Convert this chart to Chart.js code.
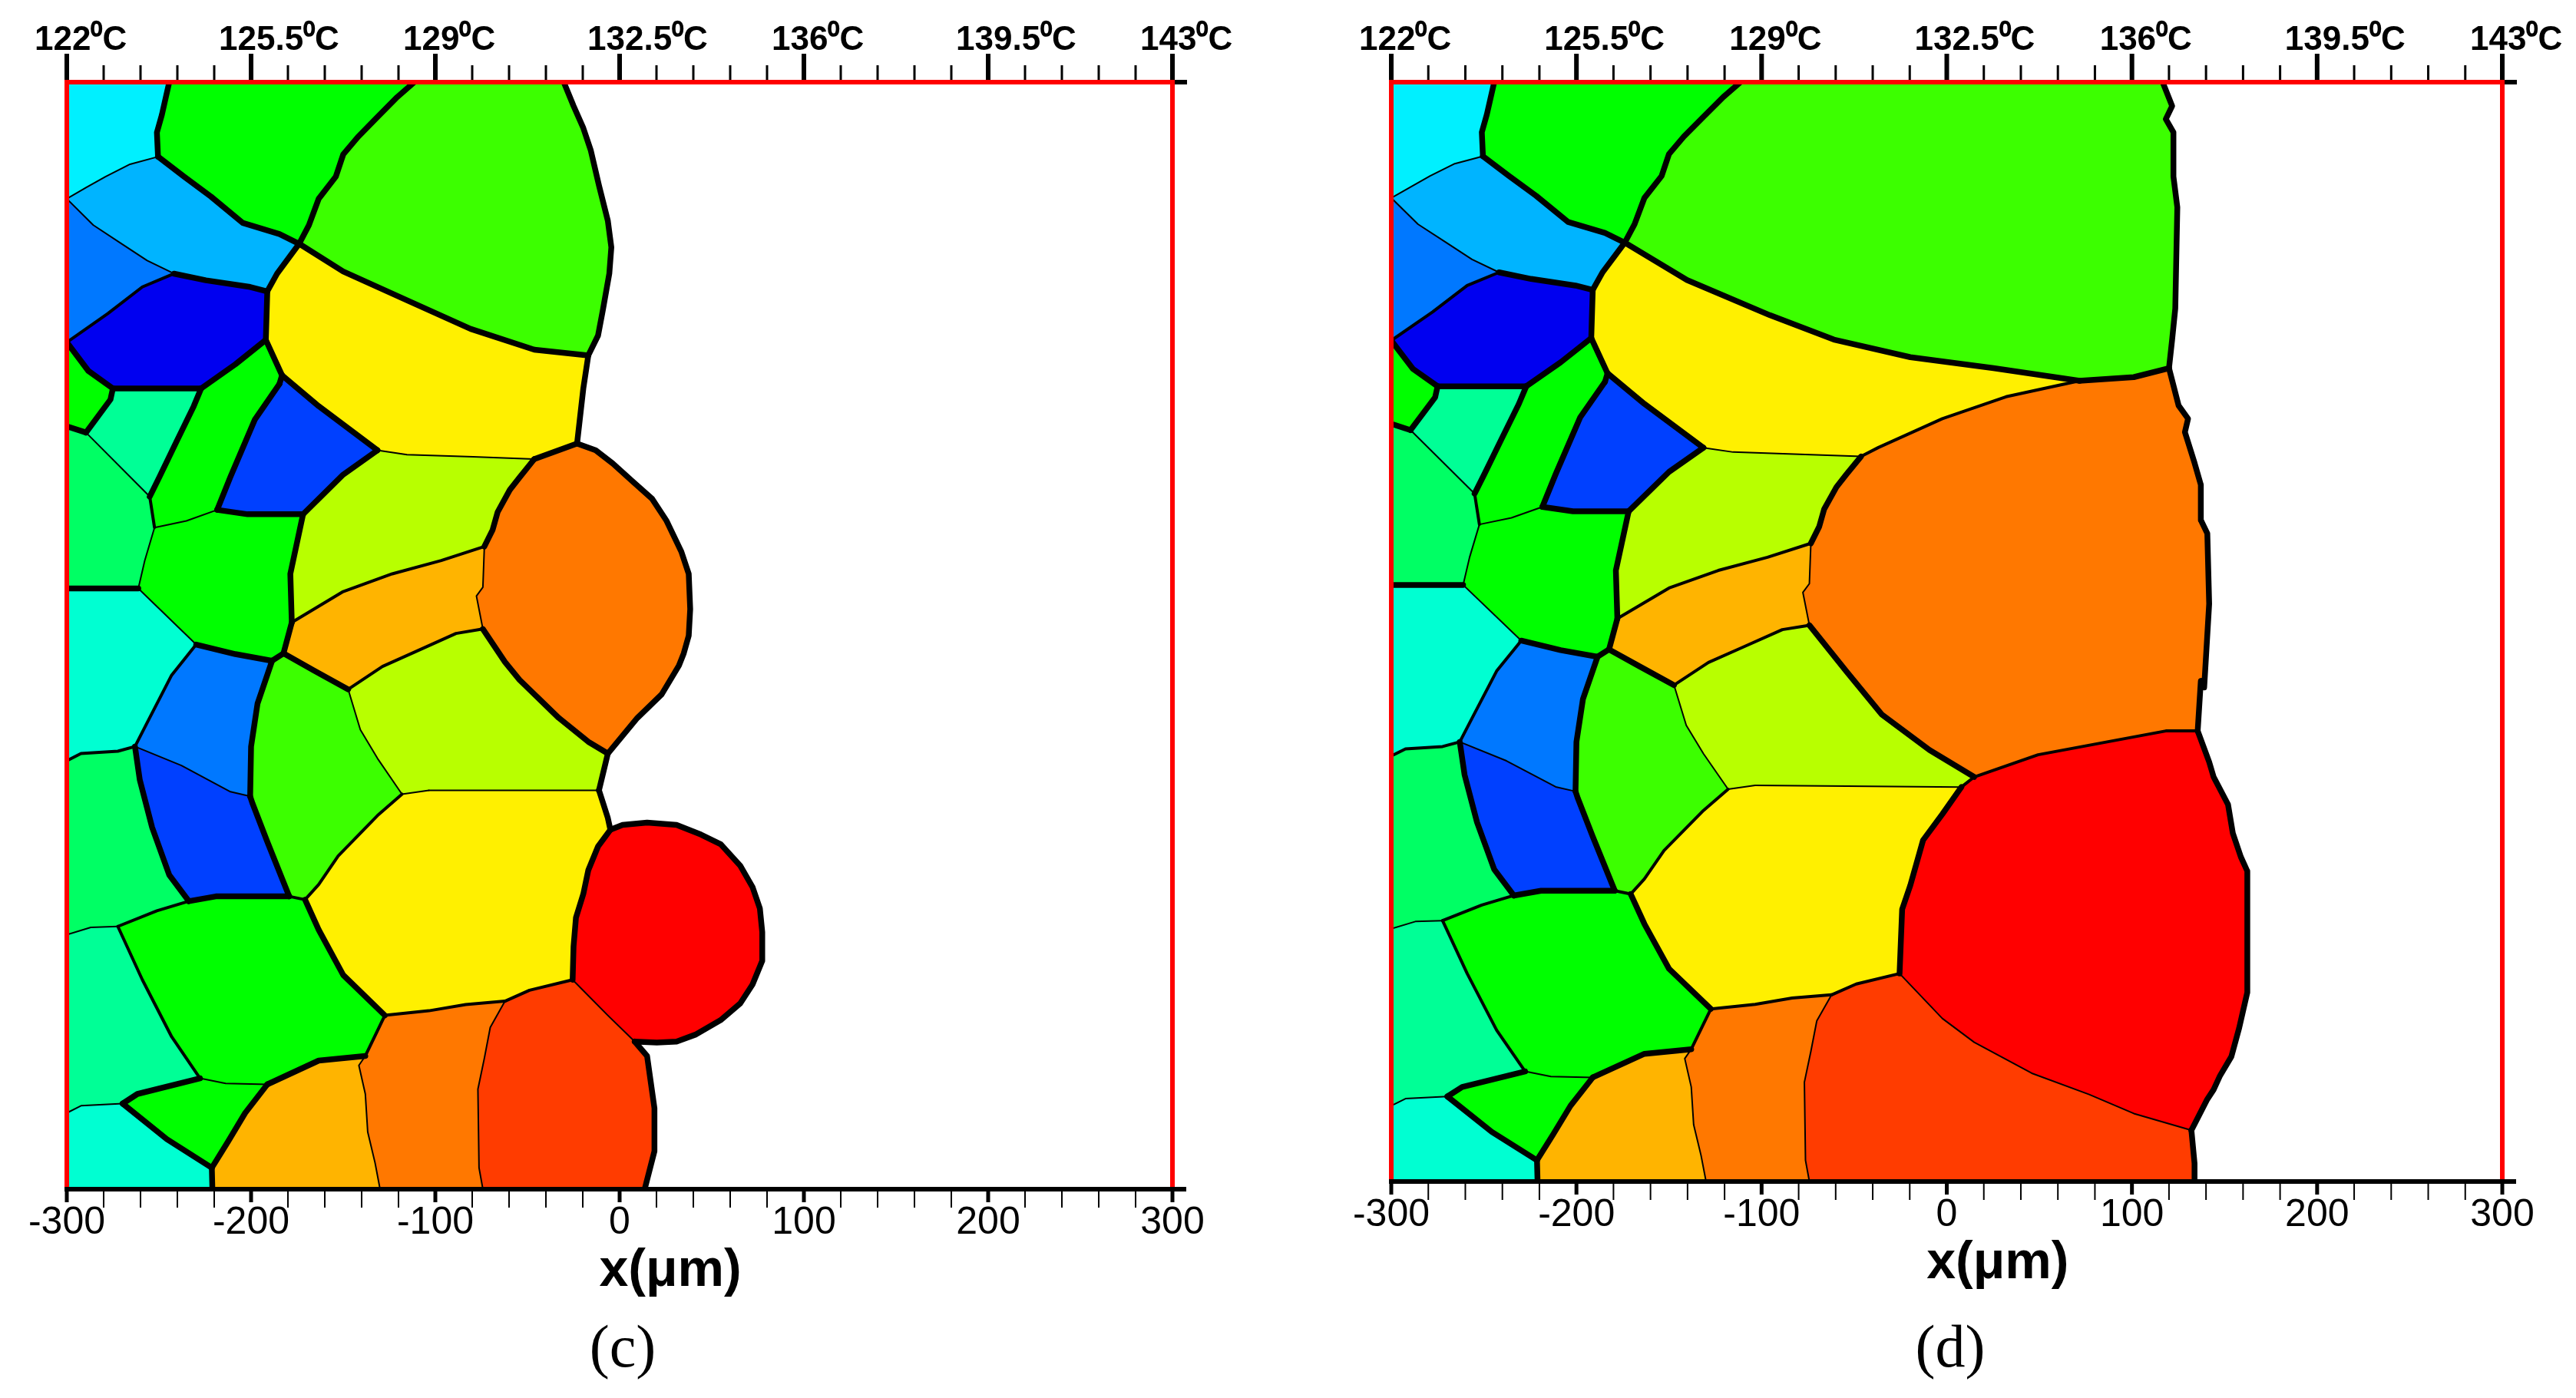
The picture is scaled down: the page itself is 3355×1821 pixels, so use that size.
<!DOCTYPE html>
<html>
<head>
<meta charset="utf-8">
<title>grain growth (c) (d)</title>
<script src="https://cdn.jsdelivr.net/npm/chart.js@4/dist/chart.umd.js"></script>
<style>
  body { margin: 0; background: #fff; width: 3355px; height: 1821px; overflow: hidden; position: relative; }
  canvas { position: absolute; top: 0; }
  #chartC { left: 0; }
  #chartD { left: 1700px; }
  .caption { position: absolute; top: 1709px; font: 78px "Liberation Serif", serif; transform: translateX(-50%); color: #000; }
</style>
</head>
<body>
<canvas id="chartC" width="1650" height="1700"></canvas>
<canvas id="chartD" width="1655" height="1700"></canvas>
<div class="caption" id="capC" style="left:811px">(c)</div>
<div class="caption" id="capD" style="left:2540px">(d)</div>
<script>
// axis ticks
const tempTicks = [122, 125.5, 129, 132.5, 136, 139.5, 143];
const xTicks = [-300, -200, -100, 0, 100, 200, 300];
const xTitle = 'x(μm)';

// grain boundaries, [x in um, height in um]
// same in both panels
const cyanGreen = [[-244.4,600],[-248.4,582.3],[-251.1,572.7],[-250.5,559.6]];
const cyanLight = [[-250.5,559.6],[-265.7,555.5],[-279,548.8],[-289.6,542.8],[-300,536.8]];
const lightBlueEdge = [[-300,536.8],[-285.6,522.5],[-271,512.9],[-256.4,503.3],[-241.8,496.2]];
const greenLight = [[-250.5,559.6],[-236.4,548.8],[-221.8,538],[-204.5,523.7],[-184.6,517.7],[-173.9,512.4]];
const g2g3 = [[-111.4,600],[-120.7,591.9],[-131.4,581.1],[-142,570.3],[-150,560.8],[-154,548.8],[-163.3,536.8],[-168.6,522.5],[-173.9,512.4]];
const yellowLeftTop = [[-173.9,512.4],[-185.9,496.2],[-191.2,486.6]];
const navyTop = [[-241.8,496.2],[-224.5,492.6],[-200.5,489],[-191.2,486.6]];
const navyRight = [[-191.2,486.6],[-192,460.3]];
const navyLeft = [[-241.8,496.2],[-259,489],[-277.7,474.6],[-300,459]];
const navyLow = [[-300,459],[-288.3,443.5],[-275,434]];
const navyBase = [[-275,434],[-227.1,434]];
const navyDiag = [[-227.1,434],[-208.5,447.1],[-192,460.3]];
const smallGreenB = [[-275,434],[-276.3,428],[-289.6,410.1]];
const smallGreenC = [[-289.6,410.1],[-300,413.5]];
const springDiag = [[-289.6,410.1],[-255,375.4]];
const stripLeft = [[-227.1,434],[-231.1,424.4],[-240.4,405.3],[-249.7,386.1],[-255,375.4]];
const stripFoot = [[-255,375.4],[-252.4,358.6]];
const stripBase = [[-252.4,358.6],[-235.1,362.2],[-218.4,368.2]];
const stripRight = [[-218.4,368.2],[-211.2,386.1],[-197.9,417.2],[-184.6,436.4]];
const stripTop = [[-184.6,436.4],[-183.2,441.1]];
const yellowBack = [[-192,460.3],[-183.2,441.1]];
const yellowBlue = [[-183.2,441.1],[-163.3,424.4],[-131.4,400.5]];
const blueDiag = [[-131.4,400.5],[-150,387.3],[-171.8,365.8]];
const blueBase = [[-171.8,365.8],[-201.9,365.8],[-218.4,368.2]];
const greenRight = [[-171.8,365.8],[-178.7,333.5],[-177.9,307.2]];
const greenFoot = [[-177.9,307.2],[-182.4,290.4]];
const greenLeft = [[-252.4,358.6],[-257.7,340.7],[-261.2,325.6]];
const wallBar = [[-261.2,325.6],[-300,325.6]];
const greenLow = [[-261.2,325.6],[-229.8,295.2]];
const greenBase = [[-229.8,295.2],[-208.5,290],[-188.6,286.4]];
const greenTip = [[-188.6,286.4],[-182.4,290.4]];
const amberTop = [[-177.9,307.2],[-150,323.9],[-123.4,333.5],[-96.8,340.7],[-73.4,348.3]];
const amberRight = [[-73.4,348.3],[-74.2,326.3],[-77.7,321.5],[-74.2,303.6]];
const amberLow = [[-74.2,303.6],[-88.8,301.2],[-110.1,291.6],[-128.7,283.3],[-147.3,270.9]];
const amberLeft = [[-182.4,290.4],[-166,281.2],[-147.3,270.9]];
const blueUpper = [[-229.8,295.2],[-243.1,278.6],[-256.4,252.8],[-263,239.9]];
const blueRight = [[-188.6,286.4],[-196.5,263.2],[-200,239.9],[-200.5,212.9]];
const blueLower = [[-200.5,212.9],[-211.2,215.4],[-237.8,229.6],[-263,239.9]];
const wallLow = [[-263,239.9],[-272.3,237.4],[-292.3,236.1],[-300,232.2]];
const deepLeft = [[-263,239.9],[-260.4,221.9],[-253.7,196.1],[-244.4,170.3],[-233.8,156.1]];
const deepBase = [[-233.8,156.1],[-219.1,158.7],[-179.3,158.7]];
const deepRight = [[-200.5,212.9],[-199.2,209],[-191.2,188.3],[-179.3,158.7]];
const limeTip = [[-179.3,158.7],[-170.7,156.9]];
const limeRight = [[-147.3,270.9],[-140.7,249],[-131.4,233.5],[-118.1,214.1]];
const limeLow = [[-118.1,214.1],[-131.4,202.5],[-152.7,180.6],[-163.3,165.1],[-170.7,156.9]];
const ylTop = [[-118.1,214.1],[-103.5,216.2]];
const ylMid = [[-131.4,400.5],[-115.4,398.1],[-79.5,396.9],[-46.3,395.7]];
const orangeNW = [[-46.3,395.7],[-54.3,385.8],[-59.6,379],[-66.2,367],[-68.9,357.4],[-73.4,348.3]];
const yellowSw = [[-170.7,156.9],[-163.3,140.6],[-150,116.1],[-127.4,94.2]];
const greenSouth = [[-127.4,94.2],[-138,72.2]];
const greenSouth2 = [[-138,72.2],[-163.3,69.7],[-191.2,56.8]];
const southTop = [[-191.2,56.8],[-213.8,57.3],[-227.7,60.1]];
const greenW = [[-227.7,60.1],[-243.1,82.6],[-259,113.5],[-272.3,142.4]];
const greenNW = [[-272.3,142.4],[-251.1,150.9],[-233.8,156.1]];
const wall137 = [[-272.3,142.4],[-287,141.9],[-300,137.9]];
const tri1 = [[-227.7,60.1],[-261.7,51.6],[-269.7,46.4]];
const wall41 = [[-269.7,46.4],[-292.3,45.2],[-300,41.3]];
const tri2 = [[-269.7,46.4],[-245.7,27.1],[-221.3,11.6]];
const tri3 = [[-191.2,56.8],[-203.2,41.3],[-212.5,25.8],[-221.3,11.6]];
const foot = [[-221.3,11.6],[-221,0]];
const amberBase = [[-138,72.2],[-141.5,67.1],[-138,51.6],[-136.7,31],[-132.7,14.2],[-130,0]];
const topBase = [[-127.4,94.2],[-103.5,96.7],[-83.5,100.1],[-62.2,101.9]];
const rustLeft = [[-62.2,101.9],[-70.2,87.7],[-73.4,71],[-76.9,54.2],[-76.3,11.6],[-74.2,0]];
const rustTop = [[-62.2,101.9],[-48.9,107.8],[-25.5,113.5]];

// panel (c) only
const surfaceC = [[-30.3,600],[-25,587.1],[-19.7,575.1],[-15.7,563.2],[-11.2,544],[-6.4,524.9],[-4.5,510.5],[-5.6,496.2],[-9,477],[-11.7,462.7],[-17,451.9]];
const g3yellowC = [[-173.9,512.4],[-150,497.4],[-115.4,481.8],[-80.9,466.3],[-46.3,455],[-17,451.9]];
const yellowEastC = [[-17,451.9],[-19.7,434],[-23.1,404.1]];
const orangeCapC = [[-23.1,404.1],[-46.3,395.7]];
const orangeEastC = [[-23.1,404.1],[-13,400.5],[-3.7,393.3],[6.9,383.7],[17.6,374.2],[25.5,362.2],[33.5,345.5],[37.5,333.5],[38.3,314.4],[37.5,300],[34.8,290.4],[32.2,283.8],[22.9,268.3],[9.6,255.4],[-6.4,236.1]];
const orangeSouthC = [[-74.2,303.6],[-62.2,285.7],[-54.3,276],[-33,255.4],[-17,242.5],[-6.4,236.1]];
const j5j8C = [[-6.4,236.1],[-11.2,216.2]];
const ylTopC = [[-103.5,216.2],[-11.2,216.2]];
const j8j9C = [[-11.2,216.2],[-6.4,201.2],[-5,194.8]];
const redWestC = [[-5,194.8],[-11.7,185.8],[-17,172.9],[-19.7,160],[-23.7,147.1],[-25,131.6],[-25.5,113.5]];
const redEastC = [[-5,194.8],[1.6,197.4],[14.9,198.7],[30.9,197.4],[44.1,192.2],[54.8,187],[65.4,175.4],[72.1,163.8],[76.1,152.2],[77.4,139.3],[77.4,123.8],[72.1,110.9],[65.4,100.6],[54.8,91.6],[41.5,83.9],[30.9,80],[20.2,79.5],[8.2,80]];
const redSouthC = [[-25.5,113.5],[-6.4,94.2],[8.2,80]];
const rustEastC = [[8.2,80],[14.9,72.2],[18.9,43.9],[18.9,20.6],[13.6,0]];

// panel (d) only
const surfaceD = [[116.6,600],[121.7,587],[118.3,579.8],[122.4,572.6],[122.4,548.5],[124.5,531.7],[123.4,476.4],[121.7,459.5],[120,443.9]];
const g3yellowD = [[-173.9,512.4],[-140.3,492],[-95.5,472.8],[-61,459.5],[-19.7,449.9],[25.2,443.9],[71.7,437]];
const g3tailD = [[71.7,437],[101,439],[120,443.9]];
const orangeNorthD = [[-46.3,395.7],[-36.9,400.6],[-2.4,416.3],[32,428.3],[71.7,437]];
const orangeEastD = [[120,443.9],[125.2,423.5],[130.3,416.3],[128.6,409],[133.8,392.2],[137.2,380.2],[137.2,361],[140.7,353.7],[141.7,315.3],[139,269.6],[137.2,273.2],[135.5,245.9]];
const orangeSouthD = [[-74.2,303.6],[-54.1,278.3],[-35.2,255],[-9.3,235.5],[14.8,220.8]];
const orangeRedD = [[14.8,220.8],[49.3,232.9],[83.8,239.4],[118.3,245.9],[135.5,245.9]];
const j50j8D = [[14.8,220.8],[7.9,215.3]];
const ylTopD = [[-103.5,216.2],[7.9,215.3]];
const redWestD = [[7.9,215.3],[-2.4,200.5],[-12.8,186.3],[-19.7,161.6],[-24.1,148.6],[-25.5,113.5]];
const redEastD = [[135.5,245.9],[141.7,229],[144.1,220.8],[151.9,205.7],[154.5,190],[158.8,177.2],[162.3,169.4],[162.3,103.2],[157.9,83.8],[153.7,68.2],[147.6,57.8],[144.1,50.1],[140.7,44.9],[132.1,28]];
const redSouthD = [[-25.5,113.5],[-2.4,89],[14.8,76],[45.9,59.1],[76.9,47.5],[101,37.1],[132.1,28]];
const rustEastD = [[132.1,28],[133.8,9.9],[133.8,0]];

// which boundaries are drawn heavy, medium or hairline
const thickShared = [cyanGreen, greenLight, g2g3, yellowLeftTop, navyTop, navyRight, navyLow, navyBase, navyDiag, smallGreenB, smallGreenC, stripLeft, stripRight, stripTop, yellowBack, yellowBlue, blueDiag, blueBase, greenRight, greenFoot, wallBar, greenBase, greenTip, amberLeft, blueRight, deepLeft, deepBase, deepRight, yellowSw, greenSouth2, tri1, tri2, tri3, foot, orangeNW];
const mediumShared = [navyLeft, stripFoot, amberTop, amberLow, blueUpper, wallLow, limeTip, limeLow, greenSouth, greenW, greenNW, topBase, rustTop];
const thinShared = [cyanLight, lightBlueEdge, springDiag, stripBase, greenLeft, greenLow, blueLower, limeRight, ylTop, ylMid, amberRight, southTop, wall137, wall41, amberBase, rustLeft];

const thickC = [surfaceC, yellowEastC, orangeCapC, orangeEastC, orangeSouthC, j5j8C, j8j9C, redWestC, redEastC, rustEastC, g3yellowC];
const mediumC = [];
const thinC = [ylTopC, redSouthC];

const thickD = [surfaceD, orangeEastD, orangeSouthD, redWestD, redEastD, rustEastD, g3yellowD, g3tailD];
const mediumD = [orangeNorthD, orangeRedD, j50j8D];
const thinD = [ylTopD, redSouthD];

const heat = {
  cyan: '#00f0ff', sky: '#00b4ff', azure: '#0078ff', navy: '#0000f0', royal: '#0040ff',
  aqua: '#00ffd2', mint: '#00ff96', spring: '#00ff64', green: '#00ff00', leaf: '#3cff00',
  lime: '#b8ff00', yellow: '#fff000', amber: '#ffb400', orange: '#ff7800', rust: '#ff3c00', red: '#ff0000'
};

function rev(a) { return a.slice().reverse(); }
function chain() {
  let out = [];
  for (const part of arguments) out = out.concat(part);
  return out;
}

const lowYellowTail = chain(rev(rustTop), rev(topBase), rev(yellowSw), rev(limeLow));

const grainsShared = [
  ['cyan', chain([[-300,600]], cyanGreen, cyanLight)],
  ['green', chain(cyanGreen, greenLight, rev(g2g3))],
  ['sky', chain(greenLight, yellowLeftTop, rev(navyTop), rev(lightBlueEdge), rev(cyanLight))],
  ['azure', chain(lightBlueEdge, navyLeft)],
  ['navy', chain(navyTop, navyRight, rev(navyDiag), rev(navyBase), rev(navyLow), rev(navyLeft))],
  ['green', chain(navyLow, smallGreenB, smallGreenC)],
  ['mint', chain(navyBase, stripLeft, rev(springDiag), rev(smallGreenB))],
  ['green', chain(navyDiag, yellowBack, rev(stripTop), rev(stripRight), rev(stripBase), rev(stripFoot), rev(stripLeft))],
  ['royal', chain(stripTop, yellowBlue, blueDiag, blueBase, stripRight)],
  ['green', chain(greenLeft, greenLow, greenBase, greenTip, rev(greenFoot), rev(greenRight), blueBase, rev(stripBase))],
  ['spring', chain(rev(smallGreenC), springDiag, stripFoot, greenLeft, wallBar)],
  ['aqua', chain(rev(wallBar), greenLow, blueUpper, wallLow)],
  ['azure', chain(greenBase, blueRight, blueLower, rev(blueUpper))],
  ['royal', chain(deepLeft, deepBase, rev(deepRight), blueLower)],
  ['leaf', chain(greenTip, amberLeft, limeRight, limeLow, rev(limeTip), rev(deepRight), rev(blueRight))],
  ['lime', chain(ylMid, orangeNW, rev(amberTop), rev(greenRight), rev(blueDiag))],
  ['amber', chain(amberTop, amberRight, amberLow, rev(amberLeft), rev(greenFoot))],
  ['green', chain(deepBase, limeTip, yellowSw, greenSouth, greenSouth2, southTop, greenW, greenNW)],
  ['spring', chain(rev(wallLow), deepLeft, rev(greenNW), wall137)],
  ['mint', chain(rev(wall137), rev(greenW), tri1, wall41)],
  ['green', chain(rev(tri1), rev(southTop), tri3, rev(tri2))],
  ['aqua', chain(rev(wall41), tri2, foot, [[-300,0]])],
  ['amber', chain(greenSouth2, tri3, foot, rev(amberBase))],
  ['orange', chain(topBase, rustLeft, rev(amberBase), rev(greenSouth))]
];

const grainsC = [
  ['leaf', chain(surfaceC, rev(g3yellowC), rev(g2g3))],
  ['yellow', chain(g3yellowC, yellowEastC, orangeCapC, rev(ylMid), rev(yellowBlue), rev(yellowBack), rev(navyRight), rev(yellowLeftTop))],
  ['orange', chain(rev(orangeCapC), orangeEastC, rev(orangeSouthC), rev(amberRight), rev(orangeNW))],
  ['lime', chain(limeRight, ylTop, ylTopC, rev(j5j8C), rev(orangeSouthC), amberLow)],
  ['yellow', chain(ylTop, ylTopC, j8j9C, redWestC, lowYellowTail)],
  ['red', chain(redEastC, rev(redSouthC), rev(redWestC))],
  ['rust', chain(rustTop, redSouthC, rustEastC, rev(rustLeft))]
];

const grainsD = [
  ['leaf', chain(surfaceD, rev(g3tailD), rev(g3yellowD), rev(g2g3))],
  ['yellow', chain(g3yellowD, rev(orangeNorthD), rev(ylMid), rev(yellowBlue), rev(yellowBack), rev(navyRight), rev(yellowLeftTop))],
  ['orange', chain(orangeNorthD, g3tailD, orangeEastD, rev(orangeRedD), rev(orangeSouthD), rev(amberRight), rev(orangeNW))],
  ['lime', chain(limeRight, ylTop, ylTopD, rev(j50j8D), rev(orangeSouthD), amberLow)],
  ['yellow', chain(ylTop, ylTopD, redWestD, lowYellowTail)],
  ['red', chain(orangeRedD, redEastD, rev(redSouthD), rev(redWestD), rev(j50j8D))],
  ['rust', chain(rustTop, redSouthD, rustEastD, rev(rustLeft))]
];

function toPoints(list) {
  return list.map(p => ({ x: p[0], y: p[1] }));
}

function edgeSets(list, width) {
  return list.map(e => ({
    data: toPoints(e), showLine: true, fill: false, tension: 0, pointRadius: 0,
    borderColor: '#000', borderWidth: width, borderJoinStyle: 'round', borderCapStyle: 'round'
  }));
}

function grainSets(list) {
  return list.map(g => ({
    data: toPoints(chain(g[1], [g[1][0]])), showLine: true, fill: 'shape', tension: 0, pointRadius: 0,
    backgroundColor: heat[g[0]], borderColor: heat[g[0]], borderWidth: 1
  }));
}

function minorsOf(ticks) {
  const out = [];
  for (let i = 0; i < ticks.length - 1; i++) {
    const step = (ticks[i + 1] - ticks[i]) / 5;
    for (let k = 1; k < 5; k++) out.push(ticks[i] + k * step);
  }
  return out;
}

function tickLine(ctx, x, y1, y2, w) {
  ctx.lineWidth = w;
  ctx.beginPath();
  ctx.moveTo(x, y1);
  ctx.lineTo(x, y2);
  ctx.stroke();
}

// red frame, black bottom axis, major and minor ticks, axis title
const framePlugin = {
  id: 'frame',
  afterDatasetsDraw(chart) {
    const ctx = chart.ctx;
    const a = chart.chartArea;
    const sx = chart.scales.x;
    const st = chart.scales.xTop;
    ctx.save();
    ctx.strokeStyle = '#000';
    for (const v of tempTicks) tickLine(ctx, st.getPixelForValue(v), a.top - 37, a.top, 6);
    for (const v of minorsOf(tempTicks)) tickLine(ctx, st.getPixelForValue(v), a.top - 22, a.top, 3);
    for (const v of xTicks) tickLine(ctx, sx.getPixelForValue(v), a.bottom, a.bottom + 17, 5);
    for (const v of minorsOf(xTicks)) tickLine(ctx, sx.getPixelForValue(v), a.bottom, a.bottom + 24, 2);
    ctx.lineWidth = 6;
    ctx.beginPath();
    ctx.moveTo(a.left - 3, a.bottom);
    ctx.lineTo(a.right + 18, a.bottom);
    ctx.moveTo(a.right, a.top);
    ctx.lineTo(a.right + 19, a.top);
    ctx.stroke();
    ctx.strokeStyle = '#ff0000';
    ctx.beginPath();
    ctx.moveTo(a.left, a.bottom - 3);
    ctx.lineTo(a.left, a.top);
    ctx.lineTo(a.right, a.top);
    ctx.lineTo(a.right, a.bottom - 3);
    ctx.stroke();
    ctx.fillStyle = '#000';
    ctx.font = 'bold 68px "Liberation Sans", Arial, sans-serif';
    ctx.textAlign = 'center';
    ctx.textBaseline = 'alphabetic';
    ctx.fillText(xTitle, sx.getPixelForValue(27.5), a.bottom + 126);
    ctx.restore();
  }
};

function noSidePadding(s) {
  s.paddingLeft = 0;
  s.paddingRight = 0;
}

function makePanel(id, edges, grains, pad) {
  const datasets = chain(edgeSets(edges.thick, 7.5), edgeSets(edges.medium, 4), edgeSets(edges.thin, 2), grainSets(grains));
  return new Chart(document.getElementById(id), {
    type: 'scatter',
    data: { datasets: datasets },
    plugins: [framePlugin],
    options: {
      responsive: false,
      animation: false,
      devicePixelRatio: 1,
      layout: { padding: { left: pad.left, right: pad.right, top: 0, bottom: 0 } },
      plugins: { legend: { display: false }, tooltip: { enabled: false } },
      scales: {
        x: {
          type: 'linear', position: 'bottom', min: -300, max: 300,
          afterBuildTicks: s => { s.ticks = xTicks.map(v => ({ value: v })); },
          afterFit: s => { s.height = pad.bottom; noSidePadding(s); },
          border: { display: false },
          grid: { display: false, drawTicks: false },
          ticks: { autoSkip: false, maxRotation: 0, padding: 14, color: '#000', font: { family: '"Liberation Sans", Arial, sans-serif', size: 50 } }
        },
        xTop: {
          type: 'linear', position: 'top', axis: 'x', min: 122, max: 143,
          afterBuildTicks: s => { s.ticks = tempTicks.map(v => ({ value: v })); },
          afterFit: s => { s.height = 107; noSidePadding(s); },
          border: { display: false },
          grid: { display: false, drawTicks: false },
          ticks: {
            autoSkip: false, maxRotation: 0, padding: 28, align: 'start', labelOffset: -42, color: '#000',
            font: { family: '"Liberation Sans", Arial, sans-serif', size: 44, weight: 'bold' },
            callback: v => v + '⁰C'
          }
        },
        y: { type: 'linear', min: 0, max: 600, display: false }
      }
    }
  });
}

makePanel('chartC',
  { thick: chain(thickShared, thickC), medium: chain(mediumShared, mediumC), thin: chain(thinShared, thinC) },
  chain(grainsShared, grainsC),
  { left: 87, right: 123, bottom: 151 });

makePanel('chartD',
  { thick: chain(thickShared, thickD), medium: chain(mediumShared, mediumD), thin: chain(thinShared, thinD) },
  chain(grainsShared, grainsD),
  { left: 112, right: 96, bottom: 161 });
</script>
</body>
</html>
